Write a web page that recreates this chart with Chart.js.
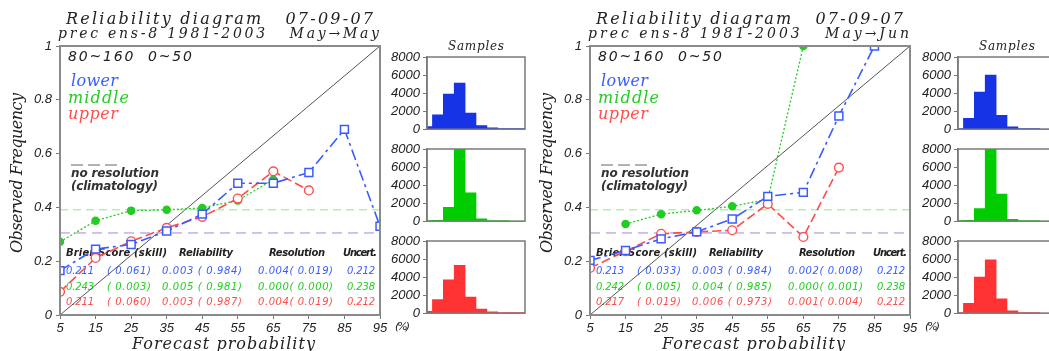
<!DOCTYPE html>
<html>
<head>
<meta charset="utf-8">
<script src="https://cdn.jsdelivr.net/npm/chart.js@4.4.1/dist/chart.umd.min.js"></script>
<style>
  html, body { margin: 0; padding: 0; background: #fff; overflow: hidden; width: 1049px; height: 351px; }
  canvas { position: absolute; }
</style>
</head>
<body>
<canvas id="mainMay" width="420" height="351" style="left:0;top:0"></canvas>
<canvas id="histMay0" width="160" height="103" style="left:370px;top:37px"></canvas>
<canvas id="histMay1" width="160" height="103" style="left:370px;top:129px"></canvas>
<canvas id="histMay2" width="160" height="103" style="left:370px;top:221px"></canvas>
<canvas id="mainJun" width="420" height="351" style="left:530px;top:0"></canvas>
<canvas id="histJun0" width="160" height="103" style="left:901px;top:37px"></canvas>
<canvas id="histJun1" width="160" height="103" style="left:901px;top:129px"></canvas>
<canvas id="histJun2" width="160" height="103" style="left:901px;top:221px"></canvas>
<script>
// forecast probability bins (%)
const probs = [5, 15, 25, 35, 45, 55, 65, 75, 85, 95];
const terciles = ["lower", "middle", "upper"];

// May -> May
const mayLower  = [0.165, 0.245, 0.262, 0.312, 0.375, 0.49, 0.49, 0.53, 0.69, 0.33];
const mayMiddle = [0.272, 0.35, 0.388, 0.391, 0.398, 0.426, 0.503, null, null, null];
const mayUpper  = [0.086, 0.212, 0.274, 0.324, 0.365, 0.433, 0.534, 0.463, null, null];
const mayClim   = [0.305, 0.391, 0.305];
const mayCountLower  = [300, 1600, 3900, 5100, 1800, 400, 150, 30, 20, 10];
const mayCountMiddle = [20, 100, 1550, 8150, 3150, 250, 80, 10, 0, 0];
const mayCountUpper  = [200, 1500, 3700, 5300, 1800, 450, 150, 30, 20, 10];
const mayStats = [
    ["0.211", "( 0.061)", "0.003 ( 0.984)", "0.004( 0.019)", "0.212"],
    ["0.243", "( 0.003)", "0.005 ( 0.981)", "0.000( 0.000)", "0.238"],
    ["0.211", "( 0.060)", "0.003 ( 0.987)", "0.004( 0.019)", "0.212"]
];

// May -> Jun
const junLower  = [0.203, 0.24, 0.283, 0.309, 0.357, 0.441, 0.456, 0.74, 1.0, null];
const junMiddle = [null, 0.338, 0.375, 0.389, 0.404, 0.43, 1.0, null, null, null];
const junUpper  = [0.175, 0.237, 0.302, 0.309, 0.315, 0.413, 0.29, 0.548, null, null];
const junClim   = [0.305, 0.391, 0.305];
const junCountLower  = [50, 1200, 4100, 6000, 1550, 250, 60, 10, 0, 0];
const junCountMiddle = [10, 100, 1400, 8450, 3000, 200, 50, 10, 0, 0];
const junCountUpper  = [50, 1100, 4000, 5900, 1600, 250, 50, 10, 0, 0];
const junStats = [
    ["0.213", "( 0.033)", "0.003 ( 0.984)", "0.002( 0.008)", "0.212"],
    ["0.242", "( 0.005)", "0.004 ( 0.985)", "0.000( 0.001)", "0.238"],
    ["0.217", "( 0.019)", "0.006 ( 0.973)", "0.001( 0.004)", "0.212"]
];

const statHeader = ["Brier Score (skill)", "Reliability", "Resolution", "Uncert."];
const countTicks = [0, 2000, 4000, 6000, 8000];

const BLUE = "#3a5cff";
const GREEN = "#22cc22";
const RED = "#ff4d4d";
const BAR_COLORS = ["#1733e6", "#00cc00", "#ff3333"];
const LINE_COLORS = [BLUE, GREEN, RED];

const TICK_FONT = { family: "Liberation Sans", style: "italic", size: 13 };

// draw text stretched (letter spacing) to a given width
function spread(ctx, text, x, y, w) {
    ctx.letterSpacing = "0px";
    const m = ctx.measureText(text).width;
    const ls = text.length > 1 ? (w - m) / (text.length - 1) : 0;
    ctx.letterSpacing = ls + "px";
    ctx.textAlign = "left";
    ctx.fillText(text, x, y);
    ctx.letterSpacing = "0px";
}

function pts(vals) {
    return probs.map((p, i) => ({ x: p, y: vals[i] }));
}

function flat(v) {
    return [{ x: probs[0], y: v }, { x: probs[probs.length - 1], y: v }];
}

function mainChart(id, title2, lower, middle, upper, clim, stats) {
    const annotate = {
        id: "annotate",
        beforeDatasetsDraw(chart) {
            const ctx = chart.ctx;
            const a = chart.chartArea;
            const L = a.left;
            ctx.save();
            ctx.beginPath();
            ctx.rect(a.left, a.top, a.right - a.left, a.bottom - a.top);
            ctx.clip();
            ctx.textBaseline = "alphabetic";

            ctx.fillStyle = "#222";
            ctx.font = "italic 14px 'DejaVu Sans'";
            spread(ctx, "80~160  0~50", L + 8, 61, 124);

            ctx.font = "italic 16px 'DejaVu Serif'";
            const legendY = [86, 103, 119];
            const legendW = [47, 61, 50];
            terciles.forEach((t, i) => {
                ctx.fillStyle = LINE_COLORS[i];
                spread(ctx, t, L + (i === 0 ? 11 : 8), legendY[i], legendW[i]);
            });

            ctx.strokeStyle = "#999";
            ctx.lineWidth = 1.5;
            ctx.setLineDash([12, 5]);
            ctx.beginPath();
            ctx.moveTo(L + 11, 165);
            ctx.lineTo(L + 57, 165);
            ctx.stroke();
            ctx.setLineDash([]);

            ctx.fillStyle = "#333";
            ctx.font = "italic 600 12px 'DejaVu Sans'";
            spread(ctx, "no resolution", L + 11, 177, 88);
            spread(ctx, "(climatology)", L + 11, 190, 87);

            // score table
            ctx.fillStyle = "#222";
            ctx.font = "italic bold 10px 'DejaVu Sans'";
            const hx = [6, 119, 209, 283];
            const hw = [101, 54, 56, 34];
            statHeader.forEach((h, i) => spread(ctx, h, L + hx[i], 256, hw[i]));
            ctx.font = "italic 10px 'DejaVu Sans'";
            const cx = [6, 47, 102, 198, 287];
            const cw = [28, 44, 80, 75, 28];
            const rowY = [274, 290, 305];
            stats.forEach((row, r) => {
                ctx.fillStyle = LINE_COLORS[r];
                row.forEach((cell, c) => spread(ctx, cell, L + cx[c], rowY[r], cw[c]));
            });
            ctx.restore();
        },
        afterDraw(chart) {
            const ctx = chart.ctx;
            const a = chart.chartArea;
            const L = a.left;
            ctx.save();
            ctx.strokeStyle = "#8a8a8a";
            ctx.lineWidth = 2;
            ctx.strokeRect(a.left, a.top, a.right - a.left, a.bottom - a.top);

            ctx.fillStyle = "#222";
            ctx.font = "italic 16px 'DejaVu Serif'";
            spread(ctx, "Reliability diagram   07-09-07", L + 6, 24, 307);
            ctx.font = "italic 14px 'DejaVu Serif'";
            spread(ctx, title2, L - 2, 38, 321);

            ctx.font = "italic 16px 'DejaVu Serif'";
            spread(ctx, "Forecast probability", L + 72, 349, 183);

            ctx.font = "italic 11px 'DejaVu Sans'";
            spread(ctx, "(%)", a.right + 15, 330, 15);

            ctx.translate(18, 173);
            ctx.rotate(-Math.PI / 2);
            ctx.font = "italic 16px 'DejaVu Serif'";
            ctx.textBaseline = "middle";
            spread(ctx, "Observed Frequency", -80, 0, 160);
            ctx.restore();
        }
    };

    const refLine = (v, color, dash) => ({
        data: flat(v), borderColor: color, borderWidth: 1, borderDash: dash,
        pointRadius: 0, clip: 0
    });

    return new Chart(document.getElementById(id), {
        type: "line",
        data: {
            datasets: [
                { data: pts(lower), borderColor: BLUE, borderWidth: 1.6, borderDash: [11, 4, 3, 4],
                  pointStyle: "rect", pointRadius: 5.6, pointBorderColor: BLUE, pointBorderWidth: 1.5,
                  pointBackgroundColor: "#fff", clip: 0 },
                { data: pts(upper), borderColor: RED, borderWidth: 1.6, borderDash: [9, 4],
                  pointStyle: "circle", pointRadius: 4.4, pointBorderColor: RED, pointBorderWidth: 1.4,
                  pointBackgroundColor: "#fff", clip: 0 },
                { data: pts(middle), borderColor: GREEN, borderWidth: 1.3, borderDash: [2, 2],
                  pointStyle: "circle", pointRadius: 3.6, pointBorderColor: GREEN,
                  pointBackgroundColor: GREEN, clip: 0 },
                refLine(clim[0], "#a3abff", [10, 6]),
                refLine(clim[2], "#ffb3b3", [10, 6]),
                refLine(clim[1], "#8be88b", [8, 5]),
                { data: [{ x: 5, y: 0 }, { x: 95, y: 1 }], borderColor: "#555", borderWidth: 1,
                  pointRadius: 0, clip: 0 }
            ]
        },
        options: {
            responsive: false,
            animation: false,
            devicePixelRatio: 1,
            spanGaps: false,
            layout: { padding: { left: 0, top: 46, right: 420 - 380, bottom: 0 } },
            plugins: { legend: { display: false }, tooltip: { enabled: false } },
            elements: { line: { tension: 0 } },
            scales: {
                x: {
                    type: "linear", min: 5, max: 95,
                    afterBuildTicks: s => { s.ticks = probs.map(v => ({ value: v })); },
                    afterFit: s => { s.height = 36; },
                    ticks: { font: TICK_FONT, color: "#222", padding: 2, maxRotation: 0, autoSkip: false },
                    grid: { drawOnChartArea: false, tickLength: 4, color: "#777" },
                    border: { color: "#8a8a8a", width: 2 }
                },
                y: {
                    min: 0, max: 1,
                    afterFit: s => { s.width = 60; },
                    ticks: { stepSize: 0.2, font: TICK_FONT, color: "#222", padding: 4,
                             callback: v => String(+v.toFixed(1)) },
                    grid: { drawOnChartArea: false, tickLength: 4, color: "#777" },
                    border: { color: "#8a8a8a", width: 2 }
                }
            }
        },
        plugins: [annotate]
    });
}

function histChart(id, counts, color, showTitle) {
    const frame = {
        id: "frame",
        afterDraw(chart) {
            const ctx = chart.ctx;
            const a = chart.chartArea;
            ctx.save();
            ctx.strokeStyle = "#7a7a7a";
            ctx.lineWidth = 1.5;
            ctx.strokeRect(a.left, a.top, a.right - a.left, a.bottom - a.top);
            if (showTitle) {
                ctx.fillStyle = "#222";
                ctx.font = "italic 12px 'DejaVu Serif'";
                spread(ctx, "Samples", (a.left + a.right) / 2 - 28, a.top - 7, 56);
            }
            ctx.restore();
        }
    };
    return new Chart(document.getElementById(id), {
        type: "bar",
        data: {
            labels: probs.map(String),
            datasets: [{ data: counts, backgroundColor: color, borderWidth: 0,
                         barPercentage: 1, categoryPercentage: 1, clip: 0 }]
        },
        options: {
            responsive: false,
            animation: false,
            devicePixelRatio: 1,
            layout: { padding: { left: 0, top: 20, right: 5, bottom: 8 } },
            plugins: { legend: { display: false }, tooltip: { enabled: false } },
            scales: {
                x: { display: false, offset: false },
                y: {
                    min: 0, max: 8000,
                    afterFit: s => { s.width = 57; },
                    afterBuildTicks: s => { s.ticks = countTicks.map(v => ({ value: v })); },
                    ticks: { font: { family: "Liberation Sans", style: "italic", size: 13 }, color: "#222",
                             padding: 3, autoSkip: false, callback: v => String(v) },
                    grid: { drawOnChartArea: false, tickLength: 4, color: "#777" },
                    border: { color: "#7a7a7a", width: 1.5 }
                }
            }
        },
        plugins: [frame]
    });
}

mainChart("mainMay", "prec ens-8 1981-2003   May\u2192May", mayLower, mayMiddle, mayUpper, mayClim, mayStats);
histChart("histMay0", mayCountLower, BAR_COLORS[0], true);
histChart("histMay1", mayCountMiddle, BAR_COLORS[1], false);
histChart("histMay2", mayCountUpper, BAR_COLORS[2], false);

mainChart("mainJun", "prec ens-8 1981-2003   May\u2192Jun", junLower, junMiddle, junUpper, junClim, junStats);
histChart("histJun0", junCountLower, BAR_COLORS[0], true);
histChart("histJun1", junCountMiddle, BAR_COLORS[1], false);
histChart("histJun2", junCountUpper, BAR_COLORS[2], false);
</script>
</body>
</html>
